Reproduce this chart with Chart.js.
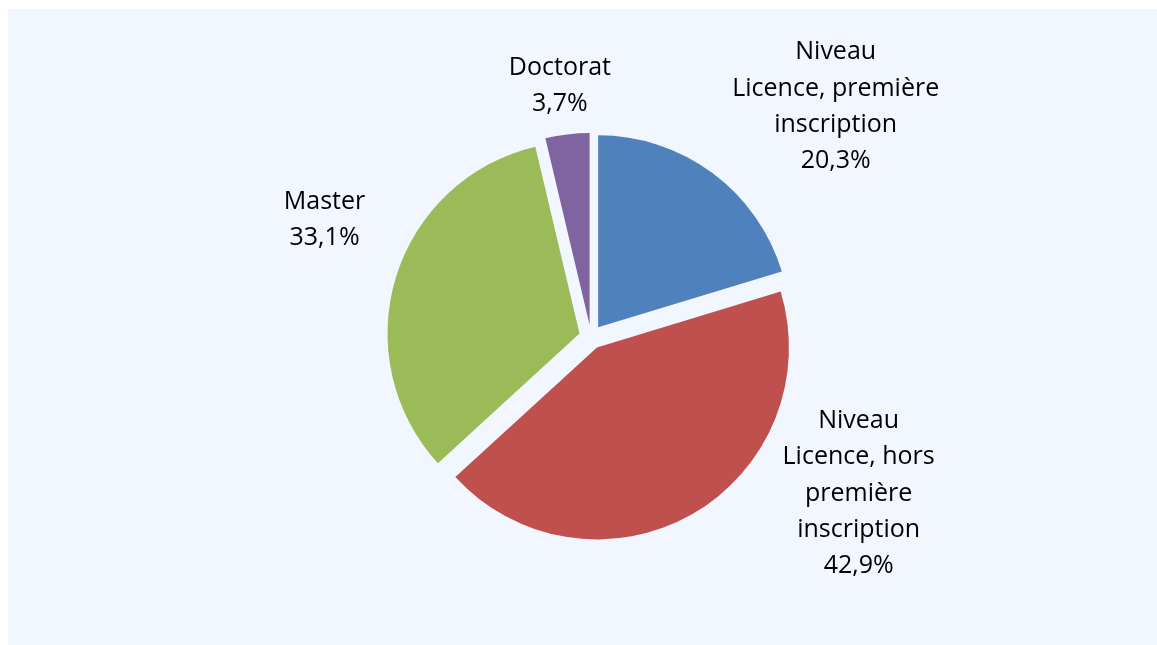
<!DOCTYPE html>
<html><head><meta charset="utf-8">
<script src="https://cdn.jsdelivr.net/npm/chart.js@4.4.1/dist/chart.umd.min.js"></script>
<style>
html,body{margin:0;padding:0;background:#fff;overflow:hidden;}
#panel{position:absolute;left:8px;top:9px;right:0;bottom:0;background:#F2F6FE;}
#wrap{position:absolute;left:0;top:0;width:1157px;height:645px;}
</style></head>
<body>
<div id="panel"></div>
<div id="wrap"><canvas id="c" width="1157" height="645"></canvas></div>
<script>
const categories = [
  ["Niveau", "Licence, première", "inscription"],
  ["Niveau", "Licence, hors", "première", "inscription"],
  ["Master"],
  ["Doctorat"]
];
const values = [20.3, 42.9, 33.1, 3.7];
const valueLabels = ["20,3%", "42,9%", "33,1%", "3,7%"];
const colors = ["#4F81BD", "#C0504D", "#9BBB59", "#8064A2"];

// label placement: angle tweak (deg) relative to slice mid-angle, distance from pie centre (px)
const labelAngleShift = [10.2, -30.0, 6.6, -0.4];
const labelDistance = [336, 310, 291, 253];
const explode = 12;

// explode every slice outward along its mid-angle, keeping its radius
const explodePlugin = {
  id: 'explode',
  beforeDatasetsDraw(chart) {
    const meta = chart.getDatasetMeta(0);
    meta.data.forEach(arc => {
      if (arc._exploded) return;
      const orig = arc.draw;
      arc.draw = function (ctx) {
        const mid = (this.startAngle + this.endAngle) / 2;
        ctx.save();
        ctx.translate(Math.cos(mid) * explode, Math.sin(mid) * explode);
        orig.call(this, ctx);
        ctx.restore();
      };
      arc._exploded = true;
    });
  }
};

const labelPlugin = {
  id: 'outLabels',
  afterDatasetsDraw(chart) {
    const ctx = chart.ctx;
    const meta = chart.getDatasetMeta(0);
    ctx.save();
    ctx.font = '25px "Open Sans", sans-serif';
    ctx.fillStyle = '#000';
    ctx.textAlign = 'center';
    ctx.textBaseline = 'middle';
    const lh = 36.3;
    meta.data.forEach((arc, i) => {
      const mid = (arc.startAngle + arc.endAngle) / 2 + labelAngleShift[i] * Math.PI / 180;
      const cx = arc.x + Math.cos(mid) * labelDistance[i];
      const cy = arc.y + Math.sin(mid) * labelDistance[i];
      const lines = categories[i].concat([valueLabels[i]]);
      const top = cy - (lines.length - 1) * lh / 2;
      lines.forEach((t, k) => ctx.fillText(t, cx, top + k * lh));
    });
    ctx.restore();
  }
};

new Chart(document.getElementById('c'), {
  type: 'pie',
  data: {
    labels: categories.map(c => c.join(' ')),
    datasets: [{
      data: values,
      backgroundColor: colors,
      borderWidth: 0
    }]
  },
  options: {
    responsive: false,
    animation: false,
    radius: 192,
    layout: { padding: { left: 25, top: 29, right: 0, bottom: 0 } },
    plugins: { legend: { display: false }, tooltip: { enabled: false } },
    events: []
  },
  plugins: [explodePlugin, labelPlugin]
});
</script>
</body></html>
